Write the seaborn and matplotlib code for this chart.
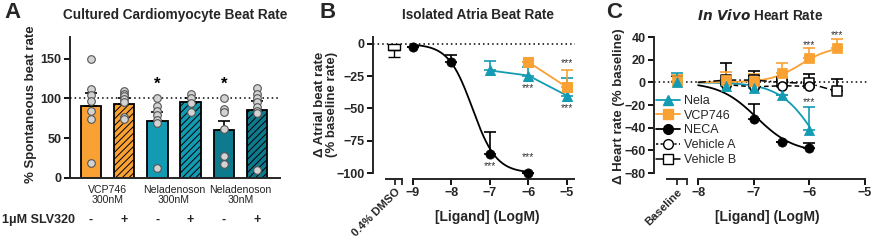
import numpy as np
import pandas as pd
import matplotlib
matplotlib.use("Agg")
import matplotlib.pyplot as plt
import matplotlib.transforms as mtrans
from matplotlib.lines import Line2D
import seaborn as sns

# ---------------- Panel A data ----------------
a_groups = ["VCP746 -", "VCP746 +", "Nela300 -", "Nela300 +", "Nela30 -", "Nela30 +"]
a_means = [91, 93, 71.5, 95, 60, 85]
a_sems = [16, 7, 11.5, 5, 12, 12]
a_pts_vcp_minus = [150, 112, 104, 97, 84, 74, 19]
a_pts_vcp_plus = [109, 106, 103, 99, 95, 77, 74]
a_pts_nela300_minus = [101, 90, 84, 79, 73, 69, 13]
a_pts_nela300_plus = [106, 100, 94, 83]
a_pts_nela30_minus = [100, 86, 83, 61, 28, 18]
a_pts_nela30_plus = [113, 106, 100, 96, 89, 84, 82, 10]
a_group_labels = ["VCP746\n300nM", "Neladenoson\n300nM", "Neladenoson\n30nM"]
a_slv_signs = ["-", "+", "-", "+", "-", "+"]
a_star_bars = [2, 4]
a_star_value = 118

# ---------------- Panel B data ----------------
b_dmso_mean = -4.5
b_dmso_sem = 5.5
b_neca_x = [-9, -8, -7, -6]
b_neca_y = [-2, -14, -85, -100]
b_neca_err = [0, 5.5, 17, 0]
b_neca_fit = dict(start=0, end=-100, logec50=-7.45, hill=1.4)
b_nela_x = [-7, -6, -5]
b_nela_y = [-20.5, -24.5, -40]
b_nela_err = [7.5, 7, 14]
b_vcp_x = [-6, -5]
b_vcp_y = [-14, -33.5]
b_vcp_err = [0, 13.5]
b_stars = [(-7, -95), (-6, -88), (-6, -34), (-5, -15), (-5, -50)]

# ---------------- Panel C data ----------------
c_nela_x = [-7.5, -7, -6.5, -6]
c_nela_y = [-3.5, -5, -11, -42]
c_nela_err = [4, 8, 0, 20]
c_nela_base, c_nela_base_err = 0, 8
c_nela_fit = dict(start=0, end=-100, logec50=-5.85, hill=1.3)

c_vcp_x = [-7.5, -7, -6.5, -6, -5.5]
c_vcp_y = [2.5, 1.5, 8, 21.5, 30]
c_vcp_err = [7, 6, 9, 8.5, 8.5]
c_vcp_base, c_vcp_base_err = 1.5, 5
c_vcp_fit = dict(start=0, end=32, logec50=-6.15, hill=1.6)

c_neca_x = [-7, -6.5, -6]
c_neca_y = [-32, -52.5, -58]
c_neca_err = [12.5, 0, 4.5]
c_neca_fit = dict(start=0, end=-62, logec50=-6.95, hill=1.3)

c_veha_x = [-7.5, -7, -6.5, -6]
c_veha_y = [-2, -4, -3, -3.5]
c_veha_err = [0, 10, 5, 11]

c_vehb_x = [-7.5, -7, -6.5, -6, -5.5]
c_vehb_y = [2, 2, 0, -1, -8]
c_vehb_err = [15, 8, 3, 0, 11]
c_vehb_base, c_vehb_base_err = 0, 5.5
c_stars = [(-6, 33), (-5.5, 42), (-6, -17)]

# ---------------- styling ----------------
ORANGE = "#F9A233"
TEAL = "#139BB3"
DTEAL = "#0E7A8E"
W, H = 872, 240
TICK_FS = 9
ROT_FS = 8.2
TITLE_FS = 9.8
YLAB_FS = 9.5
XLAB_FS = 10

sns.set_style("ticks")
plt.rcParams["font.family"] = ["Liberation Sans", "DejaVu Sans"]
plt.rcParams["hatch.linewidth"] = 0.7
plt.rcParams["axes.linewidth"] = 1.4
plt.rcParams["xtick.major.width"] = 1.3
plt.rcParams["ytick.major.width"] = 1.3
plt.rcParams["xtick.minor.width"] = 1.3
plt.rcParams["xtick.major.size"] = 4
plt.rcParams["ytick.major.size"] = 4
plt.rcParams["xtick.minor.size"] = 4


def rect(x0, y0, x1, y1):
    return [x0 / W, 1 - y1 / H, (x1 - x0) / W, (y1 - y0) / H]


def fx(x):
    return x / W


def fy(y):
    return 1 - y / H


def hill(x, start, end, logec50, hill):
    return start + (end - start) / (1 + 10 ** ((logec50 - x) * hill))


def style_axis(ax, bottom_out=0):
    for s in ["top", "right"]:
        ax.spines[s].set_visible(False)
    if bottom_out:
        ax.spines["bottom"].set_position(("outward", bottom_out))
    ax.tick_params(axis="both", labelsize=TICK_FS, pad=2, color="black")
    for lab in ax.get_yticklabels() + ax.get_xticklabels():
        lab.set_fontweight("bold")


fig = plt.figure(figsize=(W / 100, H / 100), dpi=100)

# ================= Panel A =================
axA = fig.add_axes(rect(70, 37, 280, 178))
a_colors = [ORANGE, ORANGE, TEAL, TEAL, DTEAL, DTEAL]
a_hatches = [None, "/////", None, "/////", None, "/////"]
dfA = pd.DataFrame({"group": a_groups, "mean": a_means})
sns.barplot(data=dfA, x="group", y="mean", hue="group", order=a_groups,
            hue_order=a_groups, palette=a_colors, legend=False, width=0.61,
            saturation=1, edgecolor="black", linewidth=1.3, errorbar=None, ax=axA)
for patch, h in zip(axA.patches, a_hatches):
    if h:
        patch.set_hatch(h)
axA.errorbar(range(len(a_groups)), a_means, yerr=[np.zeros(len(a_means)), a_sems],
             fmt="none", ecolor="black", elinewidth=1.2, capsize=4, capthick=1.2, zorder=3)
pts_lists = [a_pts_vcp_minus, a_pts_vcp_plus, a_pts_nela300_minus,
             a_pts_nela300_plus, a_pts_nela30_minus, a_pts_nela30_plus]
dfP = pd.DataFrame({
    "group": np.repeat(a_groups, [len(p) for p in pts_lists]),
    "value": np.concatenate(pts_lists),
})
sns.stripplot(data=dfP, x="group", y="value", order=a_groups, jitter=False,
              color="#D3D3D3", edgecolor="#555555", linewidth=0.8, size=5.5,
              ax=axA, zorder=4)
axA.axhline(100, color="black", lw=1.1, ls=(0, (1, 2)), zorder=3.5)
axA.set_xlim(-0.63, 5.69)
axA.set_ylim(0, 177)
axA.set_yticks([0, 50, 100, 150])
axA.set_xticks([])
axA.set_xlabel("")
axA.set_ylabel("")
style_axis(axA)
for i in a_star_bars:
    axA.text(i, a_star_value, "*", ha="center", va="center", fontsize=12,
             fontweight="bold", color="black")
trA = mtrans.blended_transform_factory(axA.transData, fig.transFigure)
for k, lab in enumerate(a_group_labels):
    axA.text(2 * k + 0.5, fy(185), lab, transform=trA, ha="center", va="top",
             fontsize=7.6, linespacing=1.05, color="#222222")
for i, s in enumerate(a_slv_signs):
    axA.text(i, fy(220), s, transform=trA, ha="center", va="center",
             fontsize=9, fontweight="bold")
fig.text(fx(2), fy(220), "1\u03bcM SLV320", ha="left", va="center",
         fontsize=9, fontweight="bold")
fig.text(fx(31), fy(104), "% Spontaneous beat rate", rotation=90, ha="center",
         va="center", fontsize=YLAB_FS, fontweight="bold")
fig.text(fx(175), fy(15), "Cultured Cardiomyocyte Beat Rate", ha="center",
         va="center", fontsize=TITLE_FS, fontweight="bold")
fig.text(fx(4), fy(12), "A", ha="left", va="center", fontsize=16, fontweight="bold")

# ================= Panel B =================
axB = fig.add_axes(rect(373, 37, 575, 173))
xsB = np.linspace(-9, -6, 200)
sns.lineplot(x=xsB, y=hill(xsB, **b_neca_fit), color="black", lw=1.3, ax=axB)
axB.errorbar(b_neca_x, b_neca_y, yerr=[np.zeros(4), b_neca_err], fmt="none",
             ecolor="black", elinewidth=1.2, capsize=4, capthick=1.2)
sns.scatterplot(x=b_neca_x, y=b_neca_y, color="black", marker="o", s=44,
                edgecolor="black", ax=axB, zorder=5, clip_on=False)
axB.errorbar(b_nela_x, b_nela_y, yerr=[np.zeros(3), b_nela_err], fmt="none",
             ecolor=TEAL, elinewidth=1.2, capsize=4, capthick=1.2)
sns.lineplot(x=b_nela_x, y=b_nela_y, color=TEAL, lw=1.3, marker="^",
             markersize=7.5, markeredgecolor=TEAL, ax=axB, zorder=4)
axB.errorbar(b_vcp_x, b_vcp_y, yerr=[np.zeros(2), b_vcp_err], fmt="none",
             ecolor=ORANGE, elinewidth=1.2, capsize=4, capthick=1.2)
sns.lineplot(x=b_vcp_x, y=b_vcp_y, color=ORANGE, lw=1.3, marker="s",
             markersize=7, markeredgecolor=ORANGE, ax=axB, zorder=4)
axB.axhline(0, color="black", lw=1.1, ls=(0, (1, 2)), zorder=1)
for (sx, sy) in b_stars:
    axB.text(sx, sy, "***", ha="center", va="center", fontsize=7.5, color="#333333")
axB.set_xlim(-10.03, -4.79)
axB.set_ylim(-100, 5.4)
axB.set_xticks([-9, -8, -7, -6, -5])
axB.set_yticks([0, -25, -50, -75, -100])
axB.spines["bottom"].set_bounds(-9, -4.82)
axB.set_xlabel("")
axB.set_ylabel("")
style_axis(axB, bottom_out=4)

axBd = fig.add_axes(rect(386, 37, 402, 173))
sns.barplot(x=["0.4% DMSO"], y=[b_dmso_mean], color="white", edgecolor="black",
            linewidth=1.0, width=0.77, ax=axBd)
axBd.errorbar([0], [b_dmso_mean], yerr=[[b_dmso_sem], [0]], fmt="none",
              ecolor="black", elinewidth=1.0, capsize=4, capthick=1.0)
axBd.set_xlim(-0.5, 0.5)
axBd.set_ylim(-100, 5.4)
axBd.patch.set_visible(False)
for s in ["left", "top", "right"]:
    axBd.spines[s].set_visible(False)
axBd.spines["bottom"].set_position(("outward", 4))
axBd.set_yticks([])
axBd.set_xticks([0.05])
axBd.set_xticks([0.5], minor=True)
axBd.set_xticklabels(["0.4% DMSO"], rotation=45, ha="right",
                     rotation_mode="anchor", fontsize=ROT_FS, fontweight="bold")
axBd.tick_params(axis="x", pad=2)
axBd.set_xlabel("")
axBd.set_ylabel("")

fig.text(fx(326), fy(104), "\u0394 Atrial beat rate\n(% baseline rate)", rotation=90,
         ha="center", va="center", fontsize=YLAB_FS, fontweight="bold", linespacing=1.1)
fig.text(fx(487), fy(217), "[Ligand] (LogM)", ha="center", va="center",
         fontsize=XLAB_FS, fontweight="bold")
fig.text(fx(478), fy(15), "Isolated Atria Beat Rate", ha="center", va="center",
         fontsize=TITLE_FS, fontweight="bold")
fig.text(fx(319), fy(12), "B", ha="left", va="center", fontsize=16, fontweight="bold")

# ================= Panel C =================
C_BASE = -8.382
axC = fig.add_axes(rect(654, 37, 868, 173))
xsC = np.linspace(-8, -6, 200)
xsCv = np.linspace(-8, -5.5, 200)
sns.lineplot(x=xsC, y=hill(xsC, **c_neca_fit), color="black", lw=1.3, ax=axC)
sns.lineplot(x=xsC, y=hill(xsC, **c_nela_fit), color=TEAL, lw=1.3, ax=axC)
sns.lineplot(x=xsCv, y=hill(xsCv, **c_vcp_fit), color=ORANGE, lw=1.3, ax=axC)
axC.axhline(0, color="black", lw=1.1, ls=(0, (1, 2)), zorder=1)
sns.lineplot(x=c_veha_x, y=c_veha_y, color="black", lw=1.1, ls=(0, (3, 2)), ax=axC)
sns.lineplot(x=[-8] + c_vehb_x, y=[0] + c_vehb_y, color="black", lw=1.1,
             ls=(0, (5, 2, 1, 2)), ax=axC)


def errs(ax, x, y, e, c):
    ax.errorbar(x, y, yerr=[np.zeros(len(e)), e], fmt="none", ecolor=c,
                elinewidth=1.2, capsize=4, capthick=1.2)


errs(axC, c_vehb_x + [C_BASE], c_vehb_y + [c_vehb_base], c_vehb_err + [c_vehb_base_err], "black")
errs(axC, c_veha_x, c_veha_y, c_veha_err, "black")
errs(axC, c_neca_x, c_neca_y, c_neca_err, "black")
errs(axC, c_vcp_x + [C_BASE], c_vcp_y + [c_vcp_base], c_vcp_err + [c_vcp_base_err], ORANGE)
errs(axC, c_nela_x + [C_BASE], c_nela_y + [c_nela_base], c_nela_err + [c_nela_base_err], TEAL)

sns.scatterplot(x=c_vehb_x, y=c_vehb_y, marker="s", s=44, facecolor="white",
                edgecolor="black", linewidth=1.1, ax=axC, zorder=4)
sns.scatterplot(x=c_veha_x, y=c_veha_y, marker="o", s=44, facecolor="white",
                edgecolor="black", linewidth=1.1, ax=axC, zorder=4)
sns.scatterplot(x=c_neca_x, y=c_neca_y, marker="o", s=44, color="black",
                edgecolor="black", ax=axC, zorder=5)
sns.scatterplot(x=c_vcp_x + [C_BASE], y=c_vcp_y + [c_vcp_base], marker="s", s=44,
                color=ORANGE, edgecolor=ORANGE, ax=axC, zorder=5)
sns.scatterplot(x=c_nela_x + [C_BASE], y=c_nela_y + [c_nela_base], marker="^", s=52,
                color=TEAL, edgecolor=TEAL, ax=axC, zorder=6)
for (sx, sy) in c_stars:
    axC.text(sx, sy, "***", ha="center", va="center", fontsize=7.5, color="#333333")
axC.set_xlim(-8.794, -4.946)
axC.set_ylim(-80, 40)
axC.set_xticks([-8, -7, -6, -5])
axC.set_yticks([40, 20, 0, -20, -40, -60, -80])
axC.spines["bottom"].set_bounds(-8, -5)
axC.set_xlabel("")
axC.set_ylabel("")
style_axis(axC, bottom_out=4)

axCb = fig.add_axes(rect(667, 37, 687, 173))
axCb.set_xlim(-0.5, 0.5)
axCb.set_ylim(-80, 40)
axCb.patch.set_visible(False)
for s in ["left", "top", "right"]:
    axCb.spines[s].set_visible(False)
axCb.spines["bottom"].set_position(("outward", 4))
axCb.set_yticks([])
axCb.set_xticks([0])
axCb.set_xticks([0.5], minor=True)
axCb.set_xticklabels(["Baseline"], rotation=45, ha="right", rotation_mode="anchor",
                     fontsize=ROT_FS, fontweight="bold")
axCb.tick_params(axis="x", pad=2)

handles = [
    Line2D([], [], color=TEAL, marker="^", markersize=7.5, lw=1.3),
    Line2D([], [], color=ORANGE, marker="s", markersize=7, lw=1.3),
    Line2D([], [], color="black", marker="o", markersize=7, lw=1.3),
    Line2D([], [], color="black", marker="o", markersize=7, lw=1.1,
           ls=(0, (1.5, 1.5)), markerfacecolor="white"),
    Line2D([], [], color="black", marker="s", markersize=7, lw=1.1,
           markerfacecolor="white"),
]
fig.legend(handles, ["Nela", "VCP746", "NECA", "Vehicle A", "Vehicle B"],
           loc="upper left", bbox_to_anchor=(fx(656), fy(95)), frameon=False,
           fontsize=9, handlelength=1.9, handletextpad=0.3, labelspacing=0.22,
           borderpad=0, borderaxespad=0)

fig.text(fx(619), fy(106), "\u0394 Heart rate (% baseline)", rotation=90,
         ha="center", va="center", fontsize=YLAB_FS, fontweight="bold")
fig.text(fx(767), fy(217), "[Ligand] (LogM)", ha="center", va="center",
         fontsize=XLAB_FS, fontweight="bold")
fig.text(fx(760), fy(15), "$\\bfit{In\\ Vivo}$ Heart Rate", ha="center",
         va="center", fontsize=TITLE_FS, fontweight="bold")
fig.text(fx(606), fy(12), "C", ha="left", va="center", fontsize=16, fontweight="bold")

fig.savefig("out.png", dpi=100)
